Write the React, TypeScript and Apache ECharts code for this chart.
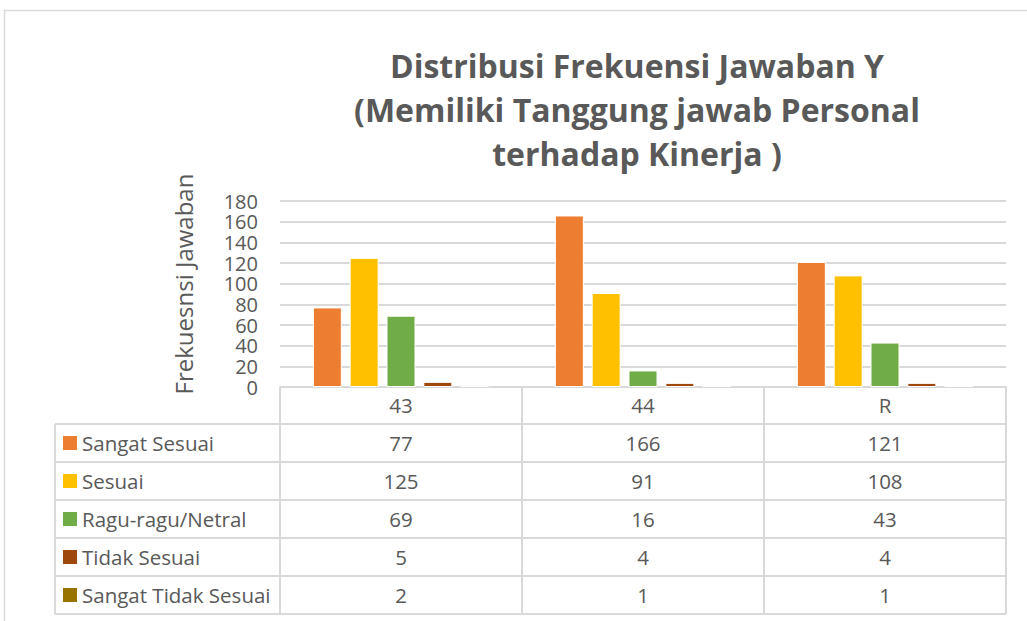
import React, { useEffect, useRef } from "react";
import * as echarts from "echarts";

const titleLines = ["Distribusi Frekuensi Jawaban Y", "(Memiliki Tanggung jawab Personal", "terhadap Kinerja )"];
const yAxisName = "Frekuesnsi Jawaban";
const categories = ["43", "44", "R"];
const seriesNames = ["Sangat Sesuai", "Sesuai", "Ragu-ragu/Netral", "Tidak Sesuai", "Sangat Tidak Sesuai"];
const sangatSesuai = [77, 166, 121];
const sesuai = [125, 91, 108];
const raguRagu = [69, 16, 43];
const tidakSesuai = [5, 4, 4];
const sangatTidakSesuai = [2, 1, 1];
const seriesColors = ["#ED7D31", "#FFC000", "#70AD47", "#9E480E", "#997300"];
const yMin = 0;
const yMax = 180;
const yInterval = 20;

const seriesValues = [sangatSesuai, sesuai, raguRagu, tidakSesuai, sangatTidakSesuai];

export default function App() {
  const ref = useRef<HTMLDivElement>(null);
  useEffect(() => {
    if (!ref.current) return;
    const chart = echarts.init(ref.current, undefined, { renderer: "svg" });
    const font = "'Open Sans'";
    const textColor = "#595959";
    const lineColor = "#D9D9D9";

    // layout
    const gridLeft = 280;
    const gridRight = 1006;
    const gridTop = 201;
    const axisY = 387;
    const headerBottom = 424;
    const rowH = 38;
    const tableLeft = 55;
    const colW = (gridRight - gridLeft) / categories.length;

    const graphics: any[] = [];
    graphics.push({
      type: "rect",
      shape: { x: 4.5, y: 10.5, width: 1040, height: 640 },
      style: { fill: "none", stroke: lineColor, lineWidth: 1.5 },
      silent: true,
    });
    const tableBottom = headerBottom + rowH * seriesNames.length;
    for (let i = 0; i <= seriesNames.length; i++) {
      const y = headerBottom + rowH * i;
      graphics.push({
        type: "line",
        shape: { x1: tableLeft, y1: y, x2: gridRight, y2: y },
        style: { stroke: lineColor, lineWidth: 2 },
      });
    }
    graphics.push({
      type: "line",
      shape: { x1: tableLeft, y1: headerBottom, x2: tableLeft, y2: tableBottom },
      style: { stroke: lineColor, lineWidth: 2 },
    });
    for (let c = 0; c <= categories.length; c++) {
      const x = gridLeft + colW * c;
      graphics.push({
        type: "line",
        shape: { x1: x, y1: axisY, x2: x, y2: tableBottom },
        style: { stroke: lineColor, lineWidth: 2 },
      });
    }
    seriesNames.forEach((name, i) => {
      const cy = headerBottom + rowH * i + rowH / 2;
      graphics.push({
        type: "rect",
        shape: { x: 63, y: cy - 7, width: 14, height: 14 },
        style: { fill: seriesColors[i] },
      });
      graphics.push({
        type: "text",
        x: 82,
        y: cy,
        style: { text: name, font: `20.5px ${font}`, fill: textColor, textAlign: "left", textVerticalAlign: "middle" },
      });
      seriesValues[i].forEach((v, c) => {
        graphics.push({
          type: "text",
          x: gridLeft + colW * c + colW / 2,
          y: cy,
          style: { text: String(v), font: `20.5px ${font}`, fill: textColor, textAlign: "center", textVerticalAlign: "middle" },
        });
      });
    });
    graphics.push({
      type: "text",
      x: 183,
      y: 284,
      rotation: Math.PI / 2,
      style: { text: yAxisName, font: `24px ${font}`, fill: textColor, textAlign: "center", textVerticalAlign: "middle" },
    });
    titleLines.forEach((t, i) => {
      graphics.push({
        type: "text",
        x: 637,
        y: 65 + 44 * i,
        style: { text: t, font: `bold 32px ${font}`, fill: textColor, textAlign: "center", textVerticalAlign: "middle" },
      });
    });

    chart.setOption({
      animation: false,
      backgroundColor: "#fff",
      grid: { left: gridLeft, right: 1027 - gridRight, top: gridTop, bottom: 621 - axisY, containLabel: false },
      xAxis: {
        type: "category",
        data: categories,
        axisLine: { show: true, lineStyle: { color: lineColor, width: 2 } },
        axisTick: { show: false },
        axisLabel: { color: textColor, fontFamily: "Open Sans", fontSize: 20.5, margin: 7 },
      },
      yAxis: {
        type: "value",
        min: yMin,
        max: yMax,
        interval: yInterval,
        axisLine: { show: false },
        axisTick: { show: false },
        splitLine: { lineStyle: { color: lineColor, width: 2 } },
        axisLabel: {
          color: textColor,
          fontFamily: "Open Sans",
          fontSize: 20,
          lineHeight: 20,
          margin: 22,
          showMinLabel: true,
          showMaxLabel: true,
          hideOverlap: false,
        },
      },
      series: seriesNames.map((name, i) => ({
        type: "bar",
        name,
        data: seriesValues[i],
        barWidth: 29,
        barGap: "27%",
        itemStyle: { color: seriesColors[i], borderColor: "#fff", borderWidth: 1 },
      })),
      graphic: graphics,
    });
    return () => chart.dispose();
  }, []);
  return <div ref={ref} style={{ position: "fixed", left: 0, top: 0, width: 1027, height: 621 }} />;
}
